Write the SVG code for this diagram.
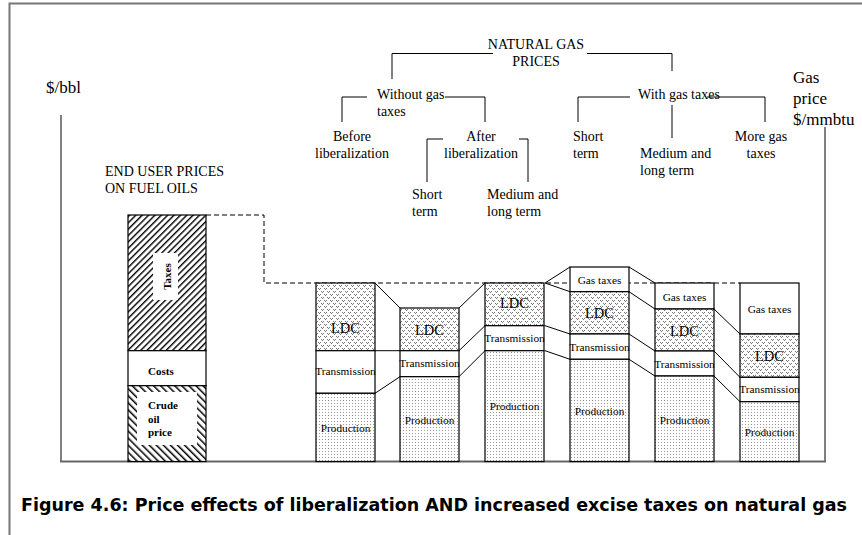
<svg xmlns="http://www.w3.org/2000/svg" width="862" height="535" viewBox="0 0 862 535">
<style>
.t{font-family:"Liberation Serif","Times New Roman",serif;font-size:14px;fill:#000}
.big{font-size:17px}
.s{font-size:11.3px}
.l{font-size:14.5px}
.b{font-weight:bold;font-size:11px}
.ln{stroke:#000;stroke-width:1;fill:none}
.bx{stroke:#000;stroke-width:1.2}
.cap{font-family:"DejaVu Sans Condensed","DejaVu Sans",Verdana,sans-serif;font-weight:bold;font-size:18px;fill:#000}
</style>
<defs>
<pattern id="ldc" width="6" height="6" patternUnits="userSpaceOnUse">
<rect width="6" height="6" fill="#fff"/>
<path d="M0,0h1v1h-1z M2,0h1v1h-1z M1,1h1v1h-1z M3,3h1v1h-1z M5,3h1v1h-1z M4,4h1v1h-1z" fill="#777"/>
</pattern>
<pattern id="prod" width="3" height="3" patternUnits="userSpaceOnUse">
<rect width="3" height="3" fill="#fff"/>
<rect x="1" y="1" width="1" height="1" fill="#999"/>
</pattern>
<pattern id="hatchF" width="4.5" height="4.5" patternUnits="userSpaceOnUse" patternTransform="rotate(45)">
<rect width="4.5" height="4.5" fill="#fff"/>
<line x1="0" y1="0" x2="0" y2="4.5" stroke="#000" stroke-width="2.8"/>
</pattern>
<pattern id="hatchB" width="5" height="5" patternUnits="userSpaceOnUse" patternTransform="rotate(-45)">
<rect width="5" height="5" fill="#fff"/>
<line x1="0" y1="0" x2="0" y2="5" stroke="#000" stroke-width="3"/>
</pattern>
</defs>
<rect width="862" height="535" fill="#fff"/>
<!-- frame -->
<path d="M9.5,540 V3.5 H870" fill="none" stroke="#777" stroke-width="2"/>

<g id="axes">
<line x1="61" y1="115" x2="61" y2="461.5" stroke="#000" stroke-width="1"/>
<line x1="825" y1="127" x2="825" y2="461.5" stroke="#000" stroke-width="1"/>
<line x1="60" y1="461.5" x2="826" y2="461.5" stroke="#666" stroke-width="2"/>
</g>

<g id="labels">
<text class="t big" x="46" y="93">$/bbl</text>
<text class="t big" x="793" y="83">Gas</text>
<text class="t big" x="793" y="104">price</text>
<text class="t big" x="793" y="125">$/mmbtu</text>
<text class="t" x="105" y="176">END USER PRICES</text>
<text class="t" x="105" y="193">ON FUEL OILS</text>
</g>

<g id="tree-lines" class="ln">
<path d="M392,79 V53.5 H493 M587,53.5 H672 V71"/>
<path d="M342,122 V97 H367 M445,97 H485 V122"/>
<path d="M427,182 V139 H443 M519,139 H528 V182"/>
<path d="M578,122 V97 H630 M707,97 H765 V122 M672,105 V138"/>
</g>

<g id="tree-text">
<g id="n-root"><text class="t" x="536" y="48.5" text-anchor="middle">NATURAL GAS</text><text class="t" x="536" y="65.5" text-anchor="middle">PRICES</text></g>
<g id="n-without"><text class="t" x="377" y="99">Without gas</text><text class="t" x="377" y="116">taxes</text></g>
<g id="n-before"><text class="t" x="352" y="141" text-anchor="middle">Before</text><text class="t" x="352" y="158" text-anchor="middle">liberalization</text></g>
<g id="n-after"><text class="t" x="481" y="141" text-anchor="middle">After</text><text class="t" x="481" y="158" text-anchor="middle">liberalization</text></g>
<g id="n-short1"><text class="t" x="412" y="199">Short</text><text class="t" x="412" y="216">term</text></g>
<g id="n-medium1"><text class="t" x="487" y="199">Medium and</text><text class="t" x="487" y="216">long term</text></g>
<g id="n-with"><text class="t" x="638" y="99">With gas taxes</text></g>
<g id="n-short2"><text class="t" x="573" y="141">Short</text><text class="t" x="573" y="158">term</text></g>
<g id="n-medium2"><text class="t" x="640" y="158">Medium and</text><text class="t" x="640" y="175">long term</text></g>
<g id="n-more"><text class="t" x="761" y="141" text-anchor="middle">More gas</text><text class="t" x="761" y="158" text-anchor="middle">taxes</text></g>
</g>

<g id="connectors" class="ln">
<path d="M206,215 H264 V283 H740" stroke-dasharray="5,3"/>
<path d="M375,283 L400,308 M375,350.7 H400 M375,393.3 L400,376.7"/>
<path d="M459,308 L485,283 M459,350.7 L485,325.7 M459,376.7 L485,350.7"/>
<path d="M545,283 L570,267 M545,283 L570,291.7 M545,325.7 L570,334 M545,350.7 L570,359.3"/>
<path d="M629,267 L655,283 M629,291.7 L655,309 M629,334 L655,351 M629,359.3 L655,376"/>
<path d="M714,309 L740,334 M714,351 L740,377.3 M714,376 L740,401.7"/>
</g>

<g id="oil-bar">
<rect class="bx" x="128" y="215" width="78" height="135.7" fill="url(#hatchF)"/>
<rect x="153" y="253" width="25" height="47" fill="#fff"/>
<text class="t b" transform="translate(171,276.5) rotate(-90)" text-anchor="middle">Taxes</text>
<rect class="bx" x="128" y="350.7" width="78" height="35" fill="#fff"/>
<text class="t b" x="148" y="375">Costs</text>
<rect class="bx" x="128" y="385.7" width="78" height="75.8" fill="url(#hatchB)"/>
<rect x="137" y="392" width="60" height="53" fill="#fff"/>
<text class="t b" x="148" y="409">Crude</text>
<text class="t b" x="148" y="423">oil</text>
<text class="t b" x="148" y="436">price</text>
</g>

<g id="bar1">
<rect class="bx" x="316" y="283" width="59" height="67.7" fill="url(#ldc)"/>
<rect class="bx" x="316" y="350.7" width="59" height="42.6" fill="#fff"/>
<rect class="bx" x="316" y="393.3" width="59" height="68.2" fill="url(#prod)"/>
<text class="t l" x="345.5" y="333" text-anchor="middle">LDC</text>
<text class="t s" x="345.5" y="375" text-anchor="middle">Transmission</text>
<text class="t s" x="345.5" y="432" text-anchor="middle">Production</text>
</g>
<g id="bar2">
<rect class="bx" x="400" y="308" width="59" height="42.7" fill="url(#ldc)"/>
<rect class="bx" x="400" y="350.7" width="59" height="26" fill="#fff"/>
<rect class="bx" x="400" y="376.7" width="59" height="84.8" fill="url(#prod)"/>
<text class="t l" x="429.5" y="335" text-anchor="middle">LDC</text>
<text class="t s" x="429.5" y="367" text-anchor="middle">Transmission</text>
<text class="t s" x="429.5" y="424" text-anchor="middle">Production</text>
</g>
<g id="bar3">
<rect class="bx" x="485" y="283" width="59" height="42.7" fill="url(#ldc)"/>
<rect class="bx" x="485" y="325.7" width="59" height="25" fill="#fff"/>
<rect class="bx" x="485" y="350.7" width="59" height="110.8" fill="url(#prod)"/>
<text class="t l" x="514.5" y="308" text-anchor="middle">LDC</text>
<text class="t s" x="514.5" y="342" text-anchor="middle">Transmission</text>
<text class="t s" x="514.5" y="410" text-anchor="middle">Production</text>
</g>
<g id="bar4">
<rect class="bx" x="570" y="267" width="59" height="24.7" fill="#fff"/>
<rect class="bx" x="570" y="291.7" width="59" height="42.3" fill="url(#ldc)"/>
<rect class="bx" x="570" y="334" width="59" height="25.3" fill="#fff"/>
<rect class="bx" x="570" y="359.3" width="59" height="102.2" fill="url(#prod)"/>
<text class="t s" x="599.5" y="284" text-anchor="middle">Gas taxes</text>
<text class="t l" x="599.5" y="318" text-anchor="middle">LDC</text>
<text class="t s" x="599.5" y="351" text-anchor="middle">Transmission</text>
<text class="t s" x="599.5" y="415" text-anchor="middle">Production</text>
</g>
<g id="bar5">
<rect class="bx" x="655" y="283" width="59" height="26" fill="#fff"/>
<rect class="bx" x="655" y="309" width="59" height="42" fill="url(#ldc)"/>
<rect class="bx" x="655" y="351" width="59" height="25" fill="#fff"/>
<rect class="bx" x="655" y="376" width="59" height="85.5" fill="url(#prod)"/>
<text class="t s" x="684.5" y="301" text-anchor="middle">Gas taxes</text>
<text class="t l" x="684.5" y="336" text-anchor="middle">LDC</text>
<text class="t s" x="684.5" y="368" text-anchor="middle">Transmission</text>
<text class="t s" x="684.5" y="424" text-anchor="middle">Production</text>
</g>
<g id="bar6">
<rect class="bx" x="740" y="283" width="59" height="51" fill="#fff"/>
<rect class="bx" x="740" y="334" width="59" height="43.3" fill="url(#ldc)"/>
<rect class="bx" x="740" y="377.3" width="59" height="24.4" fill="#fff"/>
<rect class="bx" x="740" y="401.7" width="59" height="59.8" fill="url(#prod)"/>
<text class="t s" x="769.5" y="313" text-anchor="middle">Gas taxes</text>
<text class="t l" x="769.5" y="361" text-anchor="middle">LDC</text>
<text class="t s" x="769.5" y="393" text-anchor="middle">Transmission</text>
<text class="t s" x="769.5" y="436" text-anchor="middle">Production</text>
</g>

<text class="cap" x="21" y="511" textLength="826" lengthAdjust="spacingAndGlyphs">Figure 4.6: Price effects of liberalization AND increased excise taxes on natural gas</text>
</svg>
